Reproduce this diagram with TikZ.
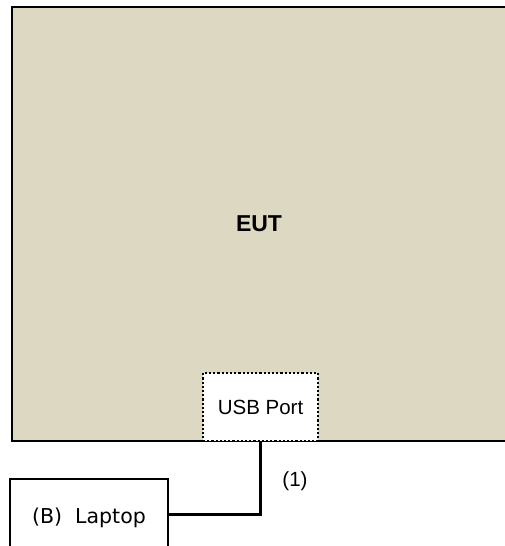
\documentclass[tikz,border=0pt]{standalone}
\usepackage{fontspec}
\setmainfont{Liberation Sans}
\newfontfamily\dejavu{DejaVu Sans}
\definecolor{eutfill}{RGB}{221,216,194}
\begin{document}
\begin{tikzpicture}[x=1pt,y=-1pt,
  box/.style={draw=black,line width=2.5pt,inner sep=0pt,outer sep=0pt},
  lbl/.style={font=\fontsize{20.5}{24}\selectfont,inner sep=0pt}]
\useasboundingbox (0,0) rectangle (504,546);
\node[box,fill=eutfill,minimum width=494pt,minimum height=434pt,
  font=\fontsize{23}{27}\selectfont\bfseries] (eut) at (259,224) {EUT};
\node[draw=black,line width=2.2pt,dotted,fill=white,inner sep=0pt,
  minimum width=115pt,minimum height=68pt,lbl] (usb) at (260.5,407) {USB Port};
\node[box,fill=white,minimum width=158pt,minimum height=71pt] (laptop) at (89,514.5) {};
\node[lbl,font=\dejavu\fontsize{20.5}{24}\selectfont,anchor=base] (laptoptext) at (89,523) {(B)\ \ Laptop};
\draw[line width=2.5pt] (usb.south) |- (laptop.east);
\node[lbl,anchor=base] (cable) at (295,486) {(1)};
\end{tikzpicture}
\end{document}
